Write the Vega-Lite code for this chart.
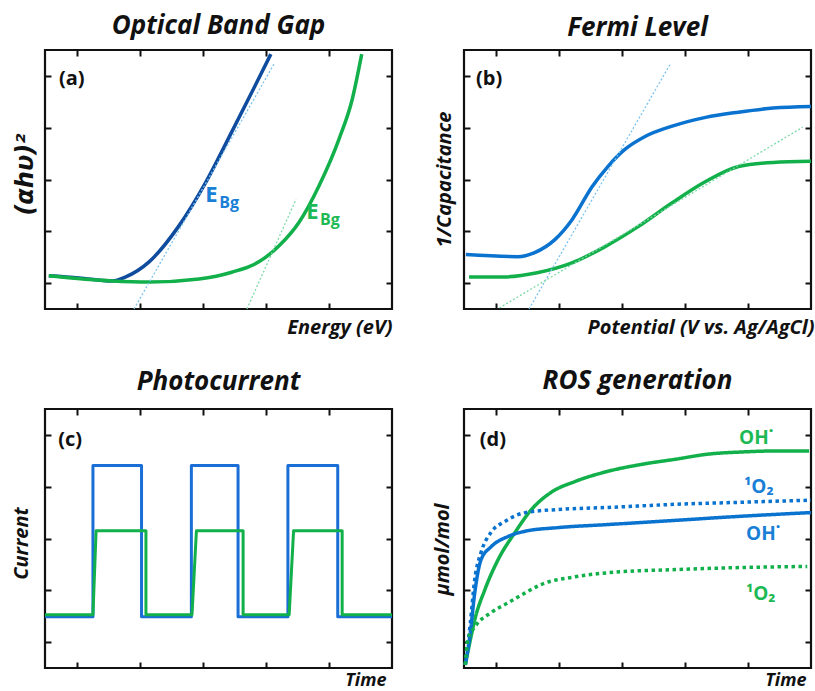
{
  "$schema": "https://vega.github.io/schema/vega-lite/v6.json",
  "padding": {"left": 9, "top": 12, "right": 0, "bottom": 0},
  "background": "white",
  "bounds": "flush",
  "columns": 2,
  "spacing": {"row": 100, "column": 72},
  "config": {
    "font": "Open Sans",
    "view": {"stroke": "#111111", "strokeWidth": 2.2},
    "axis": {"labels": false, "grid": false, "domain": false, "tickSize": -6, "tickWidth": 2, "tickColor": "#111111", "titleColor": "#111111", "titleFontWeight": "bold", "titleFontStyle": "italic", "titleFontSize": 20},
    "title": {"fontSize": 26, "fontStyle": "italic", "fontWeight": "bold", "color": "#111111", "frame": "group", "anchor": "middle", "baseline": "alphabetic"}
  },
  "datasets": {
    "a": [
      {"m": "A", "x": 0.06, "y": 0.64}, {"m": "A", "x": 0.54, "y": 0.60}, {"m": "A", "x": 1.06, "y": 0.54}, {"m": "A", "x": 1.28, "y": 0.62}, {"m": "A", "x": 1.65, "y": 0.91}, {"m": "A", "x": 2.12, "y": 1.60}, {"m": "A", "x": 2.55, "y": 2.45}, {"m": "A", "x": 2.96, "y": 3.42}, {"m": "A", "x": 3.28, "y": 4.19}, {"m": "A", "x": 3.58, "y": 4.92},
      {"m": "B", "x": 0.06, "y": 0.64}, {"m": "B", "x": 1.06, "y": 0.54}, {"m": "B", "x": 1.65, "y": 0.52}, {"m": "B", "x": 2.44, "y": 0.58}, {"m": "B", "x": 2.96, "y": 0.71}, {"m": "B", "x": 3.39, "y": 0.91}, {"m": "B", "x": 3.71, "y": 1.22}, {"m": "B", "x": 4.03, "y": 1.68}, {"m": "B", "x": 4.34, "y": 2.37}, {"m": "B", "x": 4.66, "y": 3.28}, {"m": "B", "x": 4.87, "y": 4.05}, {"m": "B", "x": 5.02, "y": 4.92}
    ],
    "at": [
      {"m": "A", "x": 1.41, "y": 0}, {"m": "A", "x": 3.63, "y": 4.73},
      {"m": "B", "x": 3.20, "y": 0}, {"m": "B", "x": 3.98, "y": 2.12}
    ],
    "al": [
      {"t": "(a)", "m": "tag", "k": "tag", "x": 0.22, "y": 4.32},
      {"t": "E", "m": "A", "k": "main", "x": 2.54, "y": 2.07},
      {"t": "Bg", "m": "A", "k": "sub", "x": 2.76, "y": 1.95},
      {"t": "E", "m": "B", "k": "main", "x": 4.14, "y": 1.74},
      {"t": "Bg", "m": "B", "k": "sub", "x": 4.36, "y": 1.62}
    ],
    "b": [
      {"m": "A", "x": 0.03, "y": 1.05}, {"m": "A", "x": 0.85, "y": 1.01}, {"m": "A", "x": 1.12, "y": 1.09}, {"m": "A", "x": 1.44, "y": 1.34}, {"m": "A", "x": 1.71, "y": 1.72}, {"m": "A", "x": 2.03, "y": 2.36}, {"m": "A", "x": 2.28, "y": 2.75}, {"m": "A", "x": 2.55, "y": 3.08}, {"m": "A", "x": 2.87, "y": 3.33}, {"m": "A", "x": 3.30, "y": 3.53}, {"m": "A", "x": 3.83, "y": 3.70}, {"m": "A", "x": 4.35, "y": 3.80}, {"m": "A", "x": 4.90, "y": 3.88}, {"m": "A", "x": 5.50, "y": 3.91},
      {"m": "B", "x": 0.08, "y": 0.62}, {"m": "B", "x": 0.64, "y": 0.62}, {"m": "B", "x": 1.16, "y": 0.70}, {"m": "B", "x": 1.71, "y": 0.89}, {"m": "B", "x": 2.23, "y": 1.20}, {"m": "B", "x": 2.76, "y": 1.59}, {"m": "B", "x": 3.30, "y": 2.05}, {"m": "B", "x": 3.83, "y": 2.46}, {"m": "B", "x": 4.35, "y": 2.75}, {"m": "B", "x": 4.90, "y": 2.83}, {"m": "B", "x": 5.50, "y": 2.85}
    ],
    "bt": [
      {"m": "A", "x": 1.03, "y": 0}, {"m": "A", "x": 3.27, "y": 4.73},
      {"m": "B", "x": 0.56, "y": 0.02}, {"m": "B", "x": 5.37, "y": 3.51}
    ],
    "bl": [
      {"t": "(b)", "m": "tag", "k": "tag", "x": 0.19, "y": 4.32}
    ],
    "c": [
      {"m": "A", "i": 0, "x": 0, "y": 0.99}, {"m": "A", "i": 1, "x": 0.76, "y": 0.99}, {"m": "A", "i": 2, "x": 0.76, "y": 3.91}, {"m": "A", "i": 3, "x": 1.53, "y": 3.91}, {"m": "A", "i": 4, "x": 1.53, "y": 0.99}, {"m": "A", "i": 5, "x": 2.32, "y": 0.99}, {"m": "A", "i": 6, "x": 2.32, "y": 3.91}, {"m": "A", "i": 7, "x": 3.06, "y": 3.91}, {"m": "A", "i": 8, "x": 3.06, "y": 0.99}, {"m": "A", "i": 9, "x": 3.85, "y": 0.99}, {"m": "A", "i": 10, "x": 3.85, "y": 3.91}, {"m": "A", "i": 11, "x": 4.64, "y": 3.91}, {"m": "A", "i": 12, "x": 4.64, "y": 0.99}, {"m": "A", "i": 13, "x": 5.5, "y": 0.99},
      {"m": "B", "i": 0, "x": 0, "y": 1.03}, {"m": "B", "i": 1, "x": 0.76, "y": 1.03}, {"m": "B", "i": 2, "x": 0.81, "y": 2.65}, {"m": "B", "i": 3, "x": 1.60, "y": 2.65}, {"m": "B", "i": 4, "x": 1.60, "y": 1.03}, {"m": "B", "i": 5, "x": 2.33, "y": 1.03}, {"m": "B", "i": 6, "x": 2.40, "y": 2.65}, {"m": "B", "i": 7, "x": 3.14, "y": 2.65}, {"m": "B", "i": 8, "x": 3.14, "y": 1.03}, {"m": "B", "i": 9, "x": 3.87, "y": 1.03}, {"m": "B", "i": 10, "x": 3.94, "y": 2.65}, {"m": "B", "i": 11, "x": 4.71, "y": 2.65}, {"m": "B", "i": 12, "x": 4.71, "y": 1.03}, {"m": "B", "i": 13, "x": 5.5, "y": 1.03}
    ],
    "cl": [
      {"t": "(c)", "m": "tag", "k": "tag", "x": 0.21, "y": 4.28}
    ],
    "d": [
      {"m": "B", "sp": "OH", "x": 0.02, "y": 0.06}, {"m": "B", "sp": "OH", "x": 0.10, "y": 0.54}, {"m": "B", "sp": "OH", "x": 0.17, "y": 0.93}, {"m": "B", "sp": "OH", "x": 0.33, "y": 1.51}, {"m": "B", "sp": "OH", "x": 0.54, "y": 2.09}, {"m": "B", "sp": "OH", "x": 0.81, "y": 2.62}, {"m": "B", "sp": "OH", "x": 1.07, "y": 3.06}, {"m": "B", "sp": "OH", "x": 1.38, "y": 3.39}, {"m": "B", "sp": "OH", "x": 1.76, "y": 3.60}, {"m": "B", "sp": "OH", "x": 2.29, "y": 3.80}, {"m": "B", "sp": "OH", "x": 2.81, "y": 3.93}, {"m": "B", "sp": "OH", "x": 3.35, "y": 4.03}, {"m": "B", "sp": "OH", "x": 3.88, "y": 4.13}, {"m": "B", "sp": "OH", "x": 4.40, "y": 4.17}, {"m": "B", "sp": "OH", "x": 4.94, "y": 4.19}, {"m": "B", "sp": "OH", "x": 5.47, "y": 4.19},
      {"m": "A", "sp": "1O2", "x": 0.02, "y": 0.06}, {"m": "A", "sp": "1O2", "x": 0.10, "y": 0.87}, {"m": "A", "sp": "1O2", "x": 0.17, "y": 1.71}, {"m": "A", "sp": "1O2", "x": 0.27, "y": 2.23}, {"m": "A", "sp": "1O2", "x": 0.43, "y": 2.62}, {"m": "A", "sp": "1O2", "x": 0.65, "y": 2.83}, {"m": "A", "sp": "1O2", "x": 0.97, "y": 3.00}, {"m": "A", "sp": "1O2", "x": 1.49, "y": 3.06}, {"m": "A", "sp": "1O2", "x": 2.29, "y": 3.10}, {"m": "A", "sp": "1O2", "x": 3.35, "y": 3.16}, {"m": "A", "sp": "1O2", "x": 4.40, "y": 3.20}, {"m": "A", "sp": "1O2", "x": 5.50, "y": 3.24},
      {"m": "A", "sp": "OH", "x": 0.02, "y": 0.06}, {"m": "A", "sp": "OH", "x": 0.10, "y": 0.68}, {"m": "A", "sp": "OH", "x": 0.17, "y": 1.45}, {"m": "A", "sp": "OH", "x": 0.27, "y": 2.09}, {"m": "A", "sp": "OH", "x": 0.43, "y": 2.34}, {"m": "A", "sp": "OH", "x": 0.70, "y": 2.54}, {"m": "A", "sp": "OH", "x": 0.97, "y": 2.64}, {"m": "A", "sp": "OH", "x": 1.49, "y": 2.71}, {"m": "A", "sp": "OH", "x": 2.29, "y": 2.77}, {"m": "A", "sp": "OH", "x": 3.35, "y": 2.85}, {"m": "A", "sp": "OH", "x": 4.40, "y": 2.93}, {"m": "A", "sp": "OH", "x": 5.50, "y": 3.00},
      {"m": "B", "sp": "1O2", "x": 0.02, "y": 0.06}, {"m": "B", "sp": "1O2", "x": 0.06, "y": 0.54}, {"m": "B", "sp": "1O2", "x": 0.17, "y": 0.79}, {"m": "B", "sp": "1O2", "x": 0.43, "y": 1.07}, {"m": "B", "sp": "1O2", "x": 0.70, "y": 1.26}, {"m": "B", "sp": "1O2", "x": 0.97, "y": 1.45}, {"m": "B", "sp": "1O2", "x": 1.22, "y": 1.61}, {"m": "B", "sp": "1O2", "x": 1.76, "y": 1.76}, {"m": "B", "sp": "1O2", "x": 2.29, "y": 1.84}, {"m": "B", "sp": "1O2", "x": 3.35, "y": 1.90}, {"m": "B", "sp": "1O2", "x": 4.40, "y": 1.94}, {"m": "B", "sp": "1O2", "x": 5.44, "y": 1.96}
    ],
    "dl": [
      {"t": "(d)", "m": "tag", "k": "tag", "x": 0.25, "y": 4.28},
      {"t": "OH˙", "m": "B", "k": "lab", "x": 4.36, "y": 4.32},
      {"t": "¹O₂", "m": "A", "k": "lab", "x": 4.44, "y": 3.37},
      {"t": "OH˙", "m": "A", "k": "lab", "x": 4.47, "y": 2.48},
      {"t": "¹O₂", "m": "B", "k": "lab", "x": 4.47, "y": 1.32}
    ]
  },
  "concat": [
    {
      "width": 347, "height": 259,
      "title": {"text": "Optical Band Gap", "offset": 8},
      "resolve": {"scale": {"color": "independent"}, "axis": {"x": "independent", "y": "independent"}},
      "layer": [
        {
          "data": {"name": "a"},
          "mark": {"type": "line", "strokeWidth": 3.5, "interpolate": "monotone"},
          "encoding": {
            "x": {"field": "x", "type": "quantitative", "scale": {"domain": [0, 5.5], "nice": false, "zero": false}, "axis": {"orient": "bottom", "values": [0.5, 1.5, 2.5, 3.5, 4.5], "title": "Energy (eV)", "titleX": 347, "titleAlign": "right", "titleY": 8, "titleBaseline": "top"}},
            "y": {"field": "y", "type": "quantitative", "scale": {"domain": [0, 5], "nice": false, "zero": false}, "axis": {"orient": "left", "values": [0.5, 1.5, 2.5, 3.5, 4.5], "title": "(αhυ)²", "titleFont": "DejaVu Sans", "titleFontSize": 24, "titleX": -8, "titleY": 124, "titleBaseline": "bottom"}},
            "color": {"field": "m", "type": "nominal", "scale": {"domain": ["A", "B"], "range": ["#0f4c9e", "#12b04a"]}, "legend": null}
          }
        },
        {
          "data": {"name": "at"},
          "mark": {"type": "line", "strokeWidth": 1.3, "strokeDash": [2, 2]},
          "encoding": {
            "x": {"field": "x", "type": "quantitative", "scale": {"domain": [0, 5.5], "nice": false, "zero": false}, "axis": {"orient": "top", "values": [0.5, 1.5, 2.5, 3.5, 4.5], "title": null}},
            "y": {"field": "y", "type": "quantitative", "scale": {"domain": [0, 5], "nice": false, "zero": false}, "axis": {"orient": "right", "values": [0.5, 1.5, 2.5, 3.5, 4.5], "title": null}},
            "color": {"field": "m", "type": "nominal", "scale": {"domain": ["A", "B"], "range": ["#7dc3ef", "#7fd9a9"]}, "legend": null}
          }
        },
        {
          "data": {"name": "al"},
          "transform": [{"filter": "datum.k === 'tag'"}],
          "mark": {"type": "text", "fontWeight": "bold", "align": "left", "baseline": "alphabetic", "fontSize": 20, "color": "#111111"},
          "encoding": {
            "x": {"field": "x", "type": "quantitative", "scale": {"domain": [0, 5.5], "nice": false, "zero": false}, "axis": null},
            "y": {"field": "y", "type": "quantitative", "scale": {"domain": [0, 5], "nice": false, "zero": false}, "axis": null},
            "text": {"field": "t"}
          }
        },
        {
          "data": {"name": "al"},
          "transform": [{"filter": "datum.k === 'main'"}],
          "mark": {"type": "text", "fontWeight": "bold", "align": "left", "baseline": "alphabetic", "fontSize": 22},
          "encoding": {
            "x": {"field": "x", "type": "quantitative", "scale": {"domain": [0, 5.5], "nice": false, "zero": false}, "axis": null},
            "y": {"field": "y", "type": "quantitative", "scale": {"domain": [0, 5], "nice": false, "zero": false}, "axis": null},
            "text": {"field": "t"},
            "color": {"field": "m", "type": "nominal", "scale": {"domain": ["A", "B"], "range": ["#1a7fd6", "#1db954"]}, "legend": null}
          }
        },
        {
          "data": {"name": "al"},
          "transform": [{"filter": "datum.k === 'sub'"}],
          "mark": {"type": "text", "fontWeight": "bold", "align": "left", "baseline": "alphabetic", "fontSize": 16},
          "encoding": {
            "x": {"field": "x", "type": "quantitative", "scale": {"domain": [0, 5.5], "nice": false, "zero": false}, "axis": null},
            "y": {"field": "y", "type": "quantitative", "scale": {"domain": [0, 5], "nice": false, "zero": false}, "axis": null},
            "text": {"field": "t"},
            "color": {"field": "m", "type": "nominal", "scale": {"domain": ["A", "B"], "range": ["#1a7fd6", "#1db954"]}, "legend": null}
          }
        }
      ]
    },
    {
      "width": 347, "height": 259,
      "title": {"text": "Fermi Level", "offset": 8},
      "resolve": {"scale": {"color": "independent"}, "axis": {"x": "independent", "y": "independent"}},
      "layer": [
        {
          "data": {"name": "b"},
          "mark": {"type": "line", "strokeWidth": 3.5, "interpolate": "monotone"},
          "encoding": {
            "x": {"field": "x", "type": "quantitative", "scale": {"domain": [0, 5.5], "nice": false, "zero": false}, "axis": {"orient": "bottom", "values": [0.5, 1.5, 2.5, 3.5, 4.5], "title": "Potential (V vs. Ag/AgCl)", "titleX": 350, "titleAlign": "right", "titleY": 8, "titleBaseline": "top"}},
            "y": {"field": "y", "type": "quantitative", "scale": {"domain": [0, 5], "nice": false, "zero": false}, "axis": {"orient": "left", "values": [0.5, 1.5, 2.5, 3.5, 4.5], "title": "1/Capacitance", "titleX": -10, "titleY": 129, "titleBaseline": "bottom"}},
            "color": {"field": "m", "type": "nominal", "scale": {"domain": ["A", "B"], "range": ["#0a72cf", "#12b04a"]}, "legend": null}
          }
        },
        {
          "data": {"name": "bt"},
          "mark": {"type": "line", "strokeWidth": 1.3, "strokeDash": [2, 2]},
          "encoding": {
            "x": {"field": "x", "type": "quantitative", "scale": {"domain": [0, 5.5], "nice": false, "zero": false}, "axis": {"orient": "top", "values": [0.5, 1.5, 2.5, 3.5, 4.5], "title": null}},
            "y": {"field": "y", "type": "quantitative", "scale": {"domain": [0, 5], "nice": false, "zero": false}, "axis": {"orient": "right", "values": [0.5, 1.5, 2.5, 3.5, 4.5], "title": null}},
            "color": {"field": "m", "type": "nominal", "scale": {"domain": ["A", "B"], "range": ["#7dc3ef", "#7fd9a9"]}, "legend": null}
          }
        },
        {
          "data": {"name": "bl"},
          "mark": {"type": "text", "fontWeight": "bold", "align": "left", "baseline": "alphabetic", "fontSize": 20, "color": "#111111"},
          "encoding": {
            "x": {"field": "x", "type": "quantitative", "scale": {"domain": [0, 5.5], "nice": false, "zero": false}, "axis": null},
            "y": {"field": "y", "type": "quantitative", "scale": {"domain": [0, 5], "nice": false, "zero": false}, "axis": null},
            "text": {"field": "t"}
          }
        }
      ]
    },
    {
      "width": 347, "height": 259,
      "title": {"text": "Photocurrent", "offset": 13},
      "resolve": {"scale": {"color": "independent"}, "axis": {"x": "independent", "y": "independent"}},
      "layer": [
        {
          "data": {"name": "c"},
          "mark": {"type": "line", "strokeWidth": 3, "strokeJoin": "round"},
          "encoding": {
            "x": {"field": "x", "type": "quantitative", "scale": {"domain": [0, 5.5], "nice": false, "zero": false}, "axis": {"orient": "bottom", "values": [0.5, 1.5, 2.5, 3.5, 4.5], "title": "Time", "titleFontSize": 18, "titleX": 341, "titleAlign": "right", "titleY": 3, "titleBaseline": "top"}},
            "y": {"field": "y", "type": "quantitative", "scale": {"domain": [0, 5], "nice": false, "zero": false}, "axis": {"orient": "left", "values": [0.5, 1.5, 2.5, 3.5, 4.5], "title": "Current", "titleX": -14, "titleY": 134, "titleBaseline": "bottom"}},
            "color": {"field": "m", "type": "nominal", "scale": {"domain": ["A", "B"], "range": ["#1a6fd6", "#12b04a"]}, "legend": null},
            "order": {"field": "i"}
          }
        },
        {
          "data": {"name": "cl"},
          "mark": {"type": "text", "fontWeight": "bold", "align": "left", "baseline": "alphabetic", "fontSize": 20, "color": "#111111"},
          "encoding": {
            "x": {"field": "x", "type": "quantitative", "scale": {"domain": [0, 5.5], "nice": false, "zero": false}, "axis": {"orient": "top", "values": [0.5, 1.5, 2.5, 3.5, 4.5], "title": null}},
            "y": {"field": "y", "type": "quantitative", "scale": {"domain": [0, 5], "nice": false, "zero": false}, "axis": {"orient": "right", "values": [0.5, 1.5, 2.5, 3.5, 4.5], "title": null}},
            "text": {"field": "t"}
          }
        }
      ]
    },
    {
      "width": 347, "height": 259,
      "title": {"text": "ROS generation", "offset": 14},
      "resolve": {"scale": {"color": "independent"}, "axis": {"x": "independent", "y": "independent"}},
      "layer": [
        {
          "data": {"name": "d"},
          "mark": {"type": "line", "strokeWidth": 3.5, "interpolate": "monotone"},
          "encoding": {
            "x": {"field": "x", "type": "quantitative", "scale": {"domain": [0, 5.5], "nice": false, "zero": false}, "axis": {"orient": "bottom", "values": [0.5, 1.5, 2.5, 3.5, 4.5], "title": "Time", "titleFontSize": 18, "titleX": 342, "titleAlign": "right", "titleY": 3, "titleBaseline": "top"}},
            "y": {"field": "y", "type": "quantitative", "scale": {"domain": [0, 5], "nice": false, "zero": false}, "axis": {"orient": "left", "values": [0.5, 1.5, 2.5, 3.5, 4.5], "title": "µmol/mol", "titleX": -12, "titleY": 140, "titleBaseline": "bottom"}},
            "color": {"field": "m", "type": "nominal", "scale": {"domain": ["A", "B"], "range": ["#0a72cf", "#12b04a"]}, "legend": null},
            "strokeDash": {"field": "sp", "type": "nominal", "scale": {"domain": ["OH", "1O2"], "range": [[1, 0], [3.5, 3.5]]}, "legend": null}
          }
        },
        {
          "data": {"name": "dl"},
          "transform": [{"filter": "datum.k === 'tag'"}],
          "mark": {"type": "text", "fontWeight": "bold", "align": "left", "baseline": "alphabetic", "fontSize": 20, "color": "#111111"},
          "encoding": {
            "x": {"field": "x", "type": "quantitative", "scale": {"domain": [0, 5.5], "nice": false, "zero": false}, "axis": {"orient": "top", "values": [0.5, 1.5, 2.5, 3.5, 4.5], "title": null}},
            "y": {"field": "y", "type": "quantitative", "scale": {"domain": [0, 5], "nice": false, "zero": false}, "axis": {"orient": "right", "values": [0.5, 1.5, 2.5, 3.5, 4.5], "title": null}},
            "text": {"field": "t"}
          }
        },
        {
          "data": {"name": "dl"},
          "transform": [{"filter": "datum.k === 'lab'"}],
          "mark": {"type": "text", "fontWeight": "bold", "align": "left", "baseline": "alphabetic", "fontSize": 19},
          "encoding": {
            "x": {"field": "x", "type": "quantitative", "scale": {"domain": [0, 5.5], "nice": false, "zero": false}, "axis": null},
            "y": {"field": "y", "type": "quantitative", "scale": {"domain": [0, 5], "nice": false, "zero": false}, "axis": null},
            "text": {"field": "t"},
            "color": {"field": "m", "type": "nominal", "scale": {"domain": ["A", "B"], "range": ["#1a7fd6", "#1db954"]}, "legend": null}
          }
        }
      ]
    }
  ]
}
